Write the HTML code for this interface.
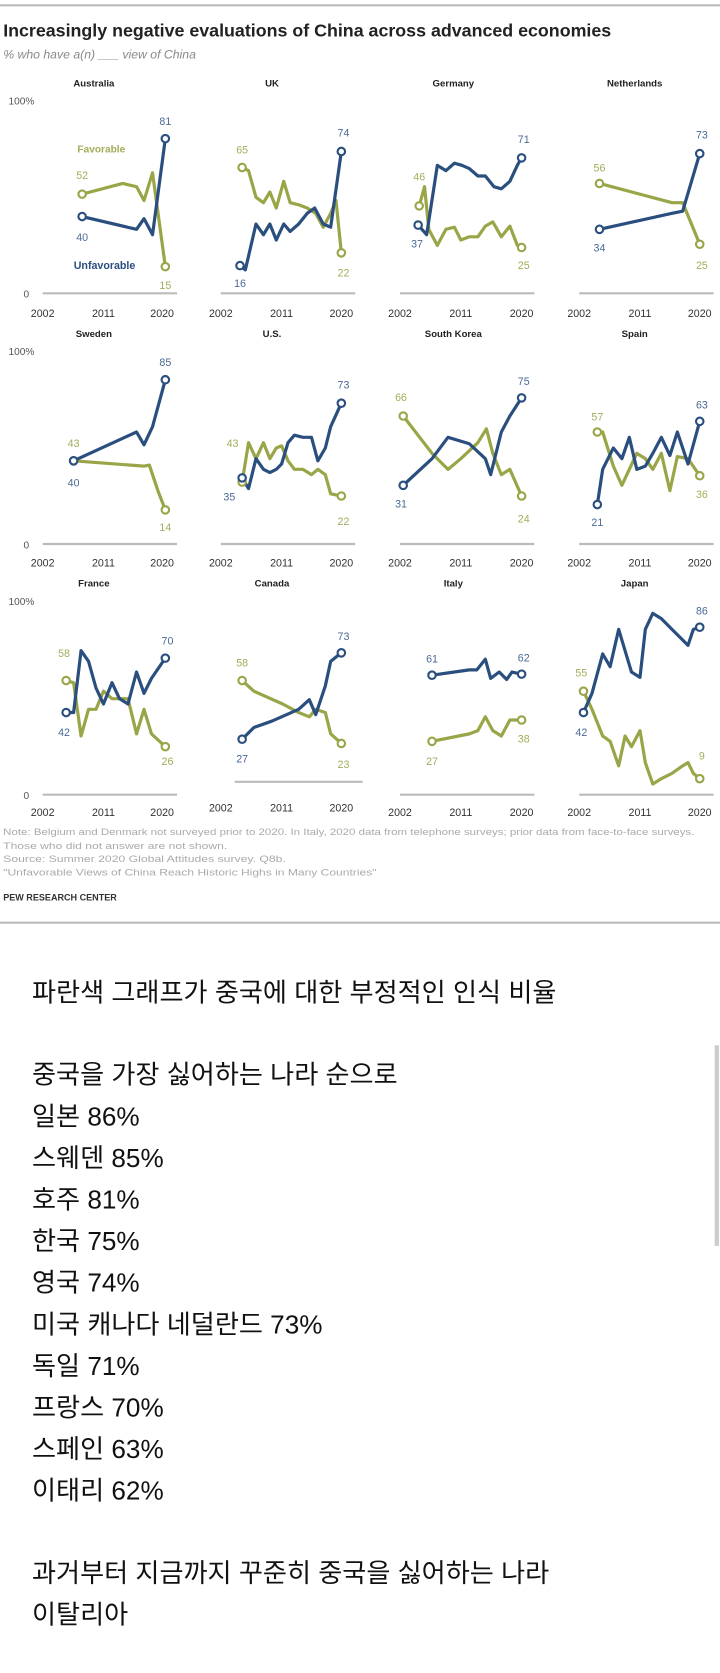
<!DOCTYPE html>
<html><head><meta charset="utf-8"><style>
html,body{margin:0;padding:0;background:#fff;width:720px;height:1673px;overflow:hidden}
#w{width:675px;height:1568px;transform:scale(1.06667);transform-origin:0 0;position:relative}
svg text{font-family:"Liberation Sans",sans-serif}
.kr{position:absolute;left:30px;font-family:"Liberation Sans","Noto Sans CJK KR",sans-serif;font-size:24.5px;color:#111;line-height:28px;white-space:nowrap}
</style></head><body><div id="w">
<svg width="675" height="880" viewBox="0 0 675 880" xmlns="http://www.w3.org/2000/svg">
<line x1="0" y1="5" x2="675" y2="5" stroke="#bbb" stroke-width="2"/>
<text x="3" y="34" font-size="16.8" font-weight="bold" fill="#222" textLength="570" lengthAdjust="spacingAndGlyphs">Increasingly negative evaluations of China across advanced economies</text>
<text x="3" y="55" font-size="11.5" font-style="italic" fill="#888" font-family="Liberation Serif">% who have a(n) ___ view of China</text>
<g font-size="9.5" fill="#555">
<text x="8" y="98">100%</text><text x="8" y="333">100%</text><text x="8" y="567">100%</text>
<text x="22" y="279">0</text><text x="22" y="514">0</text><text x="22" y="749">0</text>
</g>
<g font-size="9" font-weight="bold" fill="#222" text-anchor="middle">
<text x="88" y="81">Australia</text><text x="255" y="81">UK</text><text x="425" y="81">Germany</text><text x="595" y="81">Netherlands</text>
<text x="88" y="316">Sweden</text><text x="255" y="316">U.S.</text><text x="425" y="316">South Korea</text><text x="595" y="316">Spain</text>
<text x="88" y="550">France</text><text x="255" y="550">Canada</text><text x="425" y="550">Italy</text><text x="595" y="550">Japan</text>
</g>
<g stroke="#bbb" stroke-width="2">
<line x1="40" y1="275" x2="166" y2="275"/><line x1="207" y1="275" x2="333" y2="275"/><line x1="375" y1="275" x2="501" y2="275"/><line x1="543" y1="275" x2="669" y2="275"/>
<line x1="40" y1="510" x2="166" y2="510"/><line x1="207" y1="510" x2="333" y2="510"/><line x1="375" y1="510" x2="501" y2="510"/><line x1="543" y1="510" x2="669" y2="510"/>
<line x1="40" y1="745" x2="166" y2="745"/><line x1="220" y1="733" x2="340" y2="733"/><line x1="375" y1="745" x2="501" y2="745"/><line x1="543" y1="745" x2="669" y2="745"/>
</g>
<g font-size="10" fill="#333" text-anchor="middle">
<text x="40" y="297">2002</text><text x="97" y="297">2011</text><text x="152" y="297">2020</text>
<text x="207" y="297">2002</text><text x="264" y="297">2011</text><text x="320" y="297">2020</text>
<text x="375" y="297">2002</text><text x="432" y="297">2011</text><text x="489" y="297">2020</text>
<text x="543" y="297">2002</text><text x="600" y="297">2011</text><text x="656" y="297">2020</text>
<text x="40" y="531">2002</text><text x="97" y="531">2011</text><text x="152" y="531">2020</text>
<text x="207" y="531">2002</text><text x="264" y="531">2011</text><text x="320" y="531">2020</text>
<text x="375" y="531">2002</text><text x="432" y="531">2011</text><text x="489" y="531">2020</text>
<text x="543" y="531">2002</text><text x="600" y="531">2011</text><text x="656" y="531">2020</text>
<text x="40" y="765">2002</text><text x="97" y="765">2011</text><text x="152" y="765">2020</text>
<text x="207" y="761">2002</text><text x="264" y="761">2011</text><text x="320" y="761">2020</text>
<text x="375" y="765">2002</text><text x="432" y="765">2011</text><text x="489" y="765">2020</text>
<text x="543" y="765">2002</text><text x="600" y="765">2011</text><text x="656" y="765">2020</text>
</g>
<g fill="none" stroke-width="3" stroke-linejoin="round">
<g stroke="#9aa548">
<polyline points="77,182 115,172 128,175 135,188 143,162 155,250"/>
<polyline points="227,157 233,160 240,185 247,190 253,180 259,195 266,170 272,190 280,192 288,195 296,200 303,213 310,200 315,188 320,237"/>
<polyline points="393,193 398,175 402,215 410,230 418,215 426,213 432,225 440,222 448,222 455,212 462,208 470,222 478,212 485,230 489,232"/>
<polyline points="562,172 630,190 640,190 656,229"/>
<polyline points="69,432 135,437 140,436 148,460 155,478"/>
<polyline points="227,452 233,415 240,430 247,415 253,430 259,420 264,418 270,432 276,440 284,440 292,445 298,440 305,445 310,463 320,465"/>
<polyline points="378,390 405,425 420,440 432,430 448,415 456,402 462,425 470,445 478,440 489,465"/>
<polyline points="560,405 565,405 575,437 583,455 590,440 597,425 605,430 612,440 620,425 628,460 635,428 645,430 656,446"/>
<polyline points="62,638 69,640 76,690 83,665 90,665 97,648 105,655 112,655 120,655 128,688 135,665 142,688 155,700"/>
<polyline points="227,638 238,648 265,660 280,668 290,672 296,665 305,668 310,688 320,697"/>
<polyline points="405,695 430,690 440,688 448,685 455,672 462,685 470,690 478,675 489,675"/>
<polyline points="547,648 555,665 565,690 572,695 580,718 586,690 592,700 600,685 605,715 612,735 620,730 630,725 640,718 645,715 650,725 656,730"/>
</g>
<g stroke="#2a4f7f">
<polyline points="77,203 128,215 135,205 143,220 155,130"/>
<polyline points="225,249 230,253 240,210 247,220 253,210 259,225 266,210 272,217 280,210 288,200 295,195 303,210 310,213 320,142"/>
<polyline points="392,211 400,220 410,155 418,160 426,153 433,155 440,158 448,165 455,165 463,175 470,177 478,170 485,155 489,148"/>
<polyline points="562,215 630,200 640,198 656,144"/>
<polyline points="69,432 128,405 135,417 143,400 155,356"/>
<polyline points="227,448 233,458 240,430 247,440 253,443 259,440 264,435 270,415 276,408 284,410 292,410 298,432 305,420 310,400 320,378"/>
<polyline points="378,455 405,430 420,410 440,416 455,430 460,445 470,405 478,390 489,373"/>
<polyline points="560,473 565,440 575,420 583,430 590,410 597,440 605,437 612,425 620,410 628,427 635,405 645,435 656,395"/>
<polyline points="62,668 69,668 76,610 83,620 90,645 97,660 105,640 112,655 120,660 128,630 135,650 142,636 155,617"/>
<polyline points="227,693 238,682 255,676 280,665 290,656 296,670 305,643 310,620 320,612"/>
<polyline points="405,633 440,628 447,628 455,618 460,636 468,630 475,637 480,630 489,632"/>
<polyline points="547,668 555,650 565,613 572,625 580,590 586,610 592,630 600,635 605,590 612,575 620,580 630,590 640,600 645,605 650,590 656,588"/>
</g>
</g>
<g fill="#fff" stroke-width="2">
<g stroke="#9aa548">
<circle cx="77" cy="182" r="3.5"/><circle cx="155" cy="250" r="3.5"/><circle cx="227" cy="157" r="3.5"/><circle cx="320" cy="237" r="3.5"/>
<circle cx="393" cy="193" r="3.5"/><circle cx="489" cy="232" r="3.5"/><circle cx="562" cy="172" r="3.5"/><circle cx="656" cy="229" r="3.5"/>
<circle cx="69" cy="432" r="3.5"/><circle cx="155" cy="478" r="3.5"/><circle cx="227" cy="452" r="3.5"/><circle cx="320" cy="465" r="3.5"/>
<circle cx="378" cy="390" r="3.5"/><circle cx="489" cy="465" r="3.5"/><circle cx="560" cy="405" r="3.5"/><circle cx="656" cy="446" r="3.5"/>
<circle cx="62" cy="638" r="3.5"/><circle cx="155" cy="700" r="3.5"/><circle cx="227" cy="638" r="3.5"/><circle cx="320" cy="697" r="3.5"/>
<circle cx="405" cy="695" r="3.5"/><circle cx="489" cy="675" r="3.5"/><circle cx="547" cy="648" r="3.5"/><circle cx="656" cy="730" r="3.5"/>
</g>
<g stroke="#2a4f7f">
<circle cx="77" cy="203" r="3.5"/><circle cx="155" cy="130" r="3.5"/><circle cx="225" cy="249" r="3.5"/><circle cx="320" cy="142" r="3.5"/>
<circle cx="392" cy="211" r="3.5"/><circle cx="489" cy="148" r="3.5"/><circle cx="562" cy="215" r="3.5"/><circle cx="656" cy="144" r="3.5"/>
<circle cx="69" cy="432" r="3.5"/><circle cx="155" cy="356" r="3.5"/><circle cx="227" cy="448" r="3.5"/><circle cx="320" cy="378" r="3.5"/>
<circle cx="378" cy="455" r="3.5"/><circle cx="489" cy="373" r="3.5"/><circle cx="560" cy="473" r="3.5"/><circle cx="656" cy="395" r="3.5"/>
<circle cx="62" cy="668" r="3.5"/><circle cx="155" cy="617" r="3.5"/><circle cx="227" cy="693" r="3.5"/><circle cx="320" cy="612" r="3.5"/>
<circle cx="405" cy="633" r="3.5"/><circle cx="489" cy="632" r="3.5"/><circle cx="547" cy="668" r="3.5"/><circle cx="656" cy="588" r="3.5"/>
</g>
</g>
<g font-size="10" text-anchor="middle">
<g fill="#a4ad5a">
<text x="77" y="168">52</text><text x="155" y="271">15</text><text x="227" y="144">65</text><text x="322" y="259">22</text>
<text x="393" y="169">46</text><text x="491" y="252">25</text><text x="562" y="161">56</text><text x="658" y="252">25</text>
<text x="69" y="419">43</text><text x="155" y="498">14</text><text x="218" y="419">43</text><text x="322" y="492">22</text>
<text x="376" y="376">66</text><text x="491" y="490">24</text><text x="560" y="394">57</text><text x="658" y="467">36</text>
<text x="60" y="616">58</text><text x="157" y="717">26</text><text x="227" y="625">58</text><text x="322" y="720">23</text>
<text x="405" y="717">27</text><text x="491" y="696">38</text><text x="545" y="634">55</text><text x="658" y="712">9</text>
<text x="95" y="143" font-weight="bold" font-size="9.5">Favorable</text>
</g>
<g fill="#4a6a96">
<text x="77" y="226">40</text><text x="155" y="117">81</text><text x="225" y="269">16</text><text x="322" y="128">74</text>
<text x="391" y="232">37</text><text x="491" y="134">71</text><text x="562" y="236">34</text><text x="658" y="130">73</text>
<text x="69" y="456">40</text><text x="155" y="343">85</text><text x="215" y="469">35</text><text x="322" y="364">73</text>
<text x="376" y="476">31</text><text x="491" y="361">75</text><text x="560" y="493">21</text><text x="658" y="383">63</text>
<text x="60" y="690">42</text><text x="157" y="604">70</text><text x="227" y="715">27</text><text x="322" y="600">73</text>
<text x="405" y="621">61</text><text x="491" y="620">62</text><text x="545" y="690">42</text><text x="658" y="576">86</text>
<text x="98" y="252" font-weight="bold" font-size="10" fill="#2a4f7f">Unfavorable</text>
</g>
</g>
<g font-size="8.5" fill="#aaa" lengthAdjust="spacingAndGlyphs">
<text x="3" y="783" textLength="648" lengthAdjust="spacingAndGlyphs">Note: Belgium and Denmark not surveyed prior to 2020. In Italy, 2020 data from telephone surveys; prior data from face-to-face surveys.</text>
<text x="3" y="796" textLength="210" lengthAdjust="spacingAndGlyphs">Those who did not answer are not shown.</text>
<text x="3" y="808" textLength="265" lengthAdjust="spacingAndGlyphs">Source: Summer 2020 Global Attitudes survey. Q8b.</text>
<text x="3" y="821" textLength="350" lengthAdjust="spacingAndGlyphs">"Unfavorable Views of China Reach Historic Highs in Many Countries"</text>
</g>
<text x="3" y="844" font-size="8.5" font-weight="bold" fill="#333">PEW RESEARCH CENTER</text>
<line x1="0" y1="865" x2="675" y2="865" stroke="#bbb" stroke-width="2"/>
</svg>
<div style="position:absolute;left:670px;top:980px;width:4px;height:188px;background:#ccc"></div>
<div class="kr" style="top:918px">파란색 그래프가 중국에 대한 부정적인 인식 비율</div>
<div class="kr" style="top:995px">중국을 가장 싫어하는 나라 순으로</div>
<div class="kr" style="top:1034px">일본 86%</div>
<div class="kr" style="top:1073px">스웨덴 85%</div>
<div class="kr" style="top:1112px">호주 81%</div>
<div class="kr" style="top:1151px">한국 75%</div>
<div class="kr" style="top:1190px">영국 74%</div>
<div class="kr" style="top:1229px">미국 캐나다 네덜란드 73%</div>
<div class="kr" style="top:1268px">독일 71%</div>
<div class="kr" style="top:1307px">프랑스 70%</div>
<div class="kr" style="top:1346px">스페인 63%</div>
<div class="kr" style="top:1385px">이태리 62%</div>
<div class="kr" style="top:1462px">과거부터 지금까지 꾸준히 중국을 싫어하는 나라</div>
<div class="kr" style="top:1501px">이탈리아</div>
</div></body></html>
